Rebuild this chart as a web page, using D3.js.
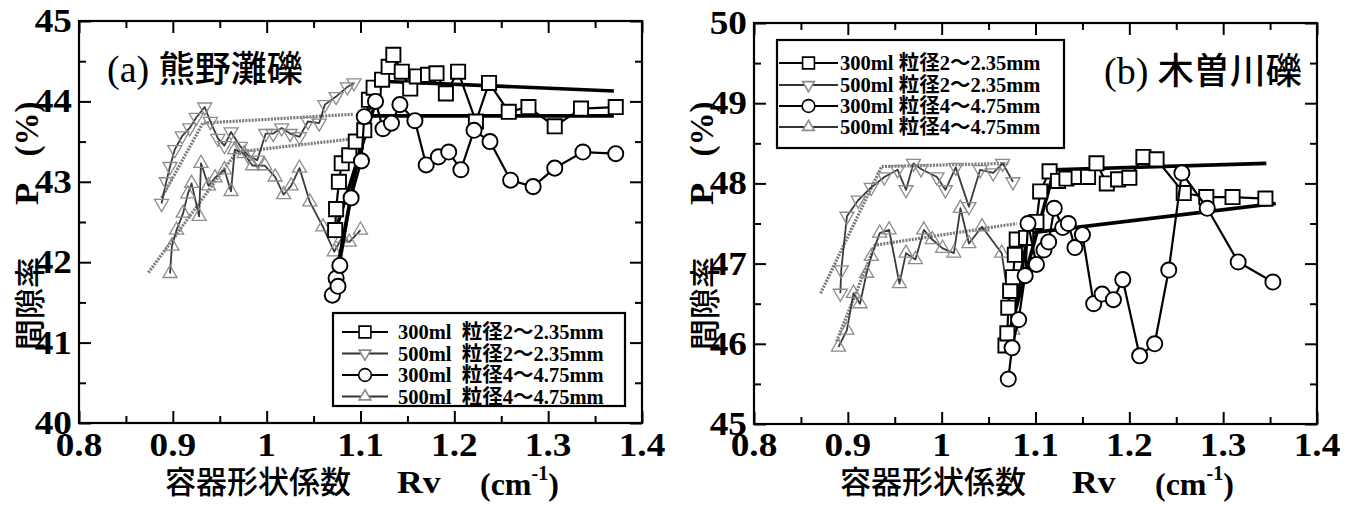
<!DOCTYPE html>
<html><head><meta charset="utf-8">
<script src="https://cdn.jsdelivr.net/npm/d3@7"></script>
<style>body{margin:0;background:#fff}svg{display:block}</style>
</head><body>
<svg id="c" width="1354" height="505"></svg>
<script>
// ---------- tick labels ----------
const xTickValues = [0.8, 0.9, 1.0, 1.1, 1.2, 1.3, 1.4];
const xTickLabels = ["0.8", "0.9", "1", "1.1", "1.2", "1.3", "1.4"];
const yTickValuesA = [40, 41, 42, 43, 44, 45];
const yTickValuesB = [45, 46, 47, 48, 49, 50];
const seriesNames = ["300ml 粒径2～2.35mm", "500ml 粒径2～2.35mm", "300ml 粒径4～4.75mm", "500ml 粒径4～4.75mm"];
const panelTitles = [["(a)", "熊野灘礫"], ["(b)", "木曽川礫"]];

// ---------- panel (a) 熊野灘礫 ----------
const aSq300 = [[1.073,42.40],[1.074,42.66],[1.077,43.00],[1.080,43.23],[1.088,43.33],[1.095,43.50],[1.104,43.64],[1.109,44.02],[1.114,44.17],[1.123,44.27],[1.130,44.43],[1.135,44.58],[1.144,44.37],[1.153,44.16],[1.160,44.31],[1.172,44.33],[1.181,44.35],[1.191,44.10],[1.204,44.37],[1.223,43.75],[1.237,44.23],[1.258,43.87],[1.279,43.93],[1.307,43.69],[1.335,43.91],[1.372,43.93]];
const aInv500 = [[0.888,42.73],[0.893,43.00],[0.897,43.19],[0.902,43.40],[0.910,43.57],[0.918,43.67],[0.925,43.80],[0.934,43.93],[0.940,43.75],[0.948,43.54],[0.955,43.45],[0.962,43.62],[0.972,43.44],[0.980,43.33],[0.990,43.27],[0.999,43.60],[1.007,43.60],[1.016,43.67],[1.025,43.60],[1.035,43.56],[1.044,43.75],[1.056,43.73],[1.062,43.96],[1.074,44.06],[1.086,44.18],[1.093,44.23]];
const aCi300 = [[1.070,41.59],[1.074,41.80],[1.076,41.70],[1.078,41.96],[1.090,42.80],[1.101,43.26],[1.104,43.81],[1.116,44.00],[1.124,43.66],[1.133,43.73],[1.142,43.96],[1.158,43.76],[1.170,43.21],[1.183,43.31],[1.194,43.37],[1.207,43.15],[1.221,43.64],[1.238,43.50],[1.260,43.02],[1.284,42.94],[1.307,43.17],[1.337,43.37],[1.372,43.35]];
const aTri500 = [[0.897,41.86],[0.899,42.20],[0.904,42.40],[0.911,42.61],[0.916,42.85],[0.920,42.98],[0.928,42.57],[0.930,43.23],[0.938,42.95],[0.945,43.05],[0.955,43.15],[0.962,42.88],[0.966,43.40],[0.976,43.35],[0.985,43.20],[0.998,43.20],[1.009,43.06],[1.018,42.84],[1.026,42.95],[1.035,43.17],[1.046,42.75],[1.060,42.44],[1.072,42.13],[1.080,42.30],[1.088,42.25],[1.100,42.40]];
const aFitSq300 = [[1.071,42.30],[1.123,44.25],[1.370,44.13]];
const aFitInv500 = [[0.888,42.80],[0.932,43.73],[1.092,43.84]];
const aFitCi300 = [[1.071,41.65],[1.106,43.82],[1.370,43.82]];
const aFitTri500 = [[0.874,41.87],[0.968,43.37],[1.096,43.54]];

// ---------- panel (b) 木曽川礫 ----------
const bSq300 = [[1.068,45.98],[1.070,46.13],[1.071,46.45],[1.073,46.66],[1.076,46.83],[1.078,47.11],[1.080,47.30],[1.090,47.32],[1.101,47.52],[1.105,47.90],[1.115,48.15],[1.124,48.03],[1.133,48.06],[1.146,48.08],[1.156,48.08],[1.165,48.25],[1.176,48.00],[1.188,48.05],[1.200,48.07],[1.215,48.33],[1.229,48.30],[1.258,47.88],[1.282,47.83],[1.310,47.83],[1.345,47.81]];
const bInv500 = [[0.892,46.63],[0.893,46.92],[0.899,47.59],[0.911,47.79],[0.925,47.95],[0.939,48.08],[0.953,48.17],[0.962,47.92],[0.970,48.25],[0.978,48.18],[0.995,48.08],[1.004,47.92],[1.015,48.20],[1.029,47.71],[1.041,48.17],[1.055,48.13],[1.065,48.25],[1.076,48.02]];
const bCi300 = [[1.071,45.56],[1.075,45.95],[1.082,46.30],[1.089,46.85],[1.092,47.50],[1.101,46.99],[1.109,47.17],[1.114,47.27],[1.120,47.69],[1.129,47.45],[1.135,47.50],[1.142,47.20],[1.150,47.36],[1.162,46.50],[1.171,46.62],[1.183,46.55],[1.193,46.80],[1.211,45.85],[1.227,46.00],[1.242,46.92],[1.256,48.13],[1.283,47.69],[1.316,47.02],[1.353,46.77]];
const bTri500 = [[0.890,45.96],[0.899,46.17],[0.906,46.63],[0.913,46.50],[0.920,46.88],[0.925,47.09],[0.934,47.38],[0.944,47.42],[0.955,46.75],[0.962,47.13],[0.972,47.05],[0.981,47.42],[0.990,47.30],[1.001,47.19],[1.013,47.13],[1.020,47.69],[1.029,47.25],[1.043,47.46],[1.064,47.13],[1.076,46.17]];
const bFitSq300 = [[1.068,45.97],[1.120,48.17],[1.346,48.25]];
const bFitInv500 = [[0.871,46.63],[0.936,48.21],[1.071,48.25]];
const bFitCi300 = [[1.072,46.00],[1.092,47.38],[1.356,47.75]];
const bFitTri500 = [[0.888,46.03],[0.929,47.23],[1.080,47.50]];

// ---------- drawing ----------
const svg = d3.select("#c");
const LATIN = "'Liberation Serif','Times New Roman',serif";
const CJK = "'Noto Sans CJK JP','Noto Sans CJK SC',sans-serif";
const MIXED = "'Liberation Serif','Noto Sans CJK JP',serif";

const styles = [
  {sym: d3.symbolSquare, size: 200, rot: 0, stroke: "#000", fill: "#fff", line: "#000", lw: 2.2},
  {sym: d3.symbolTriangle, size: 85, rot: 180, stroke: "#8c8c8c", fill: "none", line: "#3a3a3a", lw: 1.8},
  {sym: d3.symbolCircle, size: 180, rot: 0, stroke: "#000", fill: "#fff", line: "#000", lw: 2.2},
  {sym: d3.symbolTriangle, size: 85, rot: 0, stroke: "#8c8c8c", fill: "none", line: "#3a3a3a", lw: 1.8}
];

function drawPanel(cfg) {
  const g = svg.append("g");
  const x = d3.scaleLinear().domain([0.8, 1.4]).range([cfg.left, cfg.right]);
  const y = d3.scaleLinear().domain(cfg.yDomain).range([cfg.bottom, cfg.top]);
  const xMinor = d3.range(0.85, 1.4, 0.1);
  const yMinor = d3.range(cfg.yDomain[0] + 0.5, cfg.yDomain[1], 1);

  // axes with inward ticks
  const axB = d3.axisBottom(x).tickValues(xTickValues).tickSize(-12).tickFormat("");
  const axBm = d3.axisBottom(x).tickValues(xMinor).tickSize(-7).tickFormat("");
  const axT = d3.axisTop(x).tickValues(xTickValues).tickSize(-12).tickFormat("");
  const axTm = d3.axisTop(x).tickValues(xMinor).tickSize(-7).tickFormat("");
  const axL = d3.axisLeft(y).tickValues(cfg.yTicks).tickSize(-12).tickFormat("");
  const axLm = d3.axisLeft(y).tickValues(yMinor).tickSize(-7).tickFormat("");
  const axR = d3.axisRight(y).tickValues(cfg.yTicks).tickSize(-12).tickFormat("");
  const axRm = d3.axisRight(y).tickValues(yMinor).tickSize(-7).tickFormat("");
  [[axB, `translate(0,${cfg.bottom})`], [axBm, `translate(0,${cfg.bottom})`],
   [axT, `translate(0,${cfg.top})`], [axTm, `translate(0,${cfg.top})`],
   [axL, `translate(${cfg.left},0)`], [axLm, `translate(${cfg.left},0)`],
   [axR, `translate(${cfg.right},0)`], [axRm, `translate(${cfg.right},0)`]].forEach(([ax, tr]) => {
    const a = g.append("g").attr("transform", tr).call(ax);
    a.select(".domain").remove();
    a.selectAll("line").attr("stroke", "#000").attr("stroke-width", 2);
  });
  g.append("rect").attr("x", cfg.left).attr("y", cfg.top)
    .attr("width", cfg.right - cfg.left).attr("height", cfg.bottom - cfg.top)
    .attr("fill", "none").attr("stroke", "#000").attr("stroke-width", 2.2);

  // tick labels
  xTickValues.forEach((v, i) => {
    g.append("text").attr("transform", `translate(${x(v)},456) scale(1.13,1)`)
      .attr("text-anchor", "middle").attr("font-family", LATIN).attr("font-weight", "bold")
      .attr("font-size", 33).text(xTickLabels[i]);
  });
  cfg.yTicks.forEach(v => {
    g.append("text").attr("transform", `translate(${cfg.left - 7},${y(v) + 11}) scale(1.13,1)`)
      .attr("text-anchor", "end").attr("font-family", LATIN).attr("font-weight", "bold")
      .attr("font-size", 33).text(String(v));
  });

  // x title
  const tx = cfg.left;
  g.append("text").attr("x", tx + 86).attr("y", 493).attr("font-family", MIXED).attr("font-weight", 500)
    .attr("font-size", 31).text("容器形状係数");
  g.append("text").attr("transform", `translate(${tx + 318},493) scale(1.15,1)`).attr("font-family", LATIN)
    .attr("font-weight", "bold").attr("font-size", 31).text("Rv");
  const unit = g.append("text").attr("transform", `translate(${tx + 401},495)`)
    .attr("font-family", LATIN).attr("font-weight", "bold").attr("font-size", 32);
  unit.append("tspan").text("(cm");
  unit.append("tspan").attr("font-size", 20).attr("dy", -15).text("-1");
  unit.append("tspan").attr("dy", 15).text(")");

  // y title (rotated)
  const yx = cfg.left - 52;
  g.append("text").attr("transform", `translate(${yx},350) rotate(-90)`).attr("dominant-baseline", "central")
    .attr("font-family", CJK).attr("font-weight", 500).attr("font-size", 31).text("間隙率");
  g.append("text").attr("transform", `translate(${yx},194) rotate(-90) scale(1.1,1)`).attr("dominant-baseline", "central")
    .attr("text-anchor", "middle").attr("font-family", LATIN).attr("font-weight", "bold").attr("font-size", 33).text("P");
  g.append("text").attr("transform", `translate(${yx},129) rotate(-90)`).attr("dominant-baseline", "central")
    .attr("text-anchor", "middle").attr("font-family", LATIN).attr("font-weight", "bold").attr("font-size", 33).text("(%)");

  // panel label
  const pl = g.append("text").attr("x", cfg.left + cfg.labelDx).attr("y", cfg.labelY);
  pl.append("tspan").attr("font-family", LATIN).attr("font-size", 38).text(cfg.title[0] + " ");
  pl.append("tspan").attr("font-family", CJK).attr("font-weight", 500).attr("font-size", 36).text(cfg.title[1]);

  const line = d3.line().x(d => x(d[0])).y(d => y(d[1]));
  const plot = g.append("g");

  // grey fits (500ml) behind
  [cfg.fits[1], cfg.fits[3]].forEach(f => {
    plot.append("path").attr("d", line(f)).attr("fill", "none").attr("stroke", "#7a7a7a")
      .attr("stroke-width", 3.2).attr("stroke-dasharray", "2,1.2");
  });
  // series: 500ml first, then 300ml
  [1, 3, 0, 2].forEach(i => {
    const s = styles[i], data = cfg.series[i];
    plot.append("path").attr("d", line(data)).attr("fill", "none").attr("stroke", s.line)
      .attr("stroke-width", s.lw).attr("stroke-linejoin", "round");
    if (i === 0) {
      [cfg.fits[0], cfg.fits[2]].forEach(f => {
        plot.append("path").attr("d", line(f)).attr("fill", "none").attr("stroke", "#000").attr("stroke-width", 3.6);
      });
    }
    const sym = d3.symbol().type(s.sym).size(s.size);
    plot.selectAll(null).data(data).enter().append("path")
      .attr("d", sym).attr("transform", d => `translate(${x(d[0])},${y(d[1])}) rotate(${s.rot})`)
      .attr("fill", s.fill).attr("stroke", s.stroke).attr("stroke-width", i % 2 ? 1.3 : 1.9);
  });

  // legend
  const L = cfg.legend;
  g.append("rect").attr("x", L.x0).attr("y", L.y0).attr("width", L.x1 - L.x0).attr("height", L.y1 - L.y0)
    .attr("fill", "#fff").attr("stroke", "#000").attr("stroke-width", 2.2);
  seriesNames.forEach((name, i) => {
    const s = styles[i];
    const ry = L.rows[i];
    g.append("line").attr("x1", L.lx0).attr("x2", L.lx1).attr("y1", ry).attr("y2", ry)
      .attr("stroke", i % 2 ? "#333" : "#000").attr("stroke-width", 2);
    g.append("path").attr("d", d3.symbol().type(s.sym).size(s.size * 0.7))
      .attr("transform", `translate(${(L.lx0 + L.lx1) / 2},${ry}) rotate(${s.rot})`)
      .attr("fill", "#fff").attr("stroke", i % 2 ? "#8c8c8c" : "#000").attr("stroke-width", 1.6);
    g.append("text").attr("x", L.tx).attr("y", ry + 7)
      .attr("font-family", MIXED).attr("font-weight", "bold").attr("font-size", 20.5)
      .text(name.replace(" ", L.gap));
  });
}

drawPanel({
  left: 79, right: 642, top: 21, bottom: 423, yDomain: [40, 45], yTicks: yTickValuesA,
  title: panelTitles[0], labelDx: 28, labelY: 82,
  series: [aSq300, aInv500, aCi300, aTri500],
  fits: [aFitSq300, aFitInv500, aFitCi300, aFitTri500],
  legend: {x0: 333, y0: 313, x1: 625, y1: 406, rows: [332, 353.5, 375, 396.5], lx0: 342, lx1: 388, tx: 398, gap: "\u2002"}
});
drawPanel({
  left: 754, right: 1317, top: 23, bottom: 424, yDomain: [45, 50], yTicks: yTickValuesB,
  title: panelTitles[1], labelDx: 350, labelY: 84,
  series: [bSq300, bInv500, bCi300, bTri500],
  fits: [bFitSq300, bFitInv500, bFitCi300, bFitTri500],
  legend: {x0: 777, y0: 40, x1: 1064, y1: 148, rows: [63, 85, 106, 127], lx0: 779, lx1: 838, tx: 840, gap: " "}
});
</script>
</body></html>
